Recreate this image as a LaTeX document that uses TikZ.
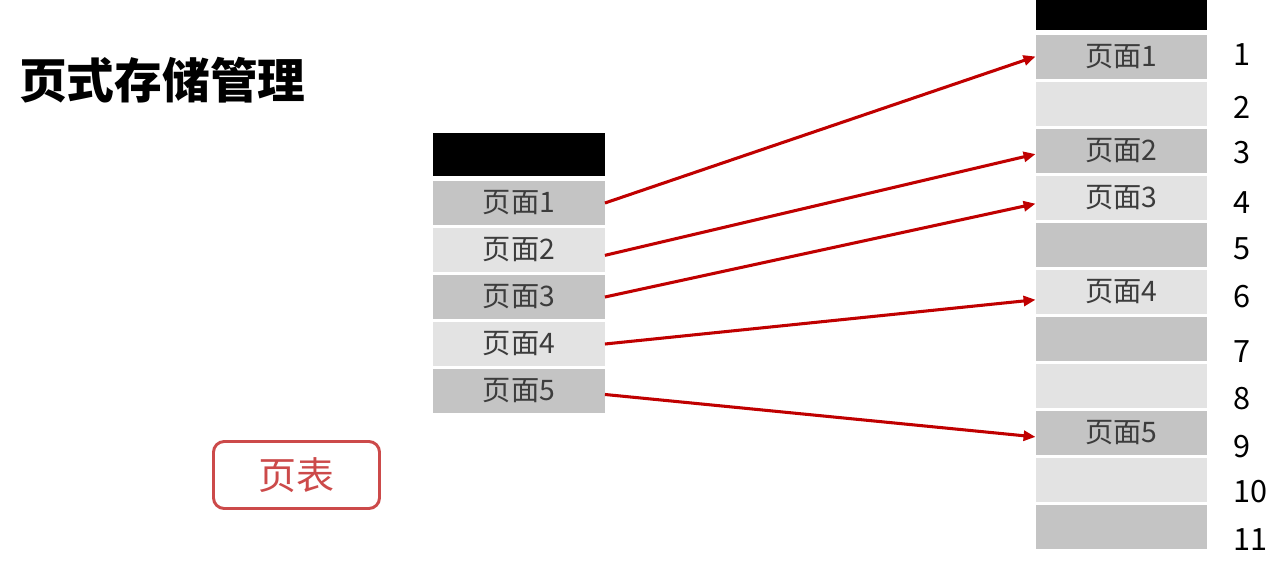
\documentclass[tikz,border=0pt]{standalone}
\usepackage{fontspec}
\setmainfont{Noto Sans CJK SC}
\usetikzlibrary{arrows.meta}
\definecolor{rowdark}{HTML}{C4C4C4}
\definecolor{rowlight}{HTML}{E3E3E3}
\definecolor{pagetext}{HTML}{3C3C3C}
\definecolor{arrowred}{HTML}{C00000}
\definecolor{tablered}{HTML}{CC4A4A}
\newcommand{\lcol}{519}
\newcommand{\rcol}{1121.5}

\begin{document}
\begin{tikzpicture}[x=0.75pt,y=-0.75pt,
  cell/.style={minimum width=128.5pt,minimum height=33.5pt,inner sep=0pt,
               font=\fontsize{21.2}{21}\selectfont,text=pagetext},
  darkrow/.style={cell,fill=rowdark},
  lightrow/.style={cell,fill=rowlight},
  headrow/.style={fill=black,minimum width=128.5pt,inner sep=0pt},
  numlabel/.style={anchor=west,inner sep=0pt,font=\fontsize{23}{23}\selectfont},
  pagearrow/.style={-{Triangle[length=9pt,width=7.5pt]},line width=2.3pt,arrowred},
]
  \useasboundingbox[fill=white] (0,0) rectangle (1279,565);

  % title
  \node[anchor=west,inner sep=0pt,font=\fontsize{35.8}{36}\selectfont\bfseries] (title) at (19,80) {页式存储管理};

  %% logical pages
  \node[headrow,minimum height=32.25pt] (lhead) at (\lcol,154.5) {};
  \foreach \i/\s in {1/darkrow,2/lightrow,3/darkrow,4/lightrow,5/darkrow}
    \node[\s] (l\i) at (\lcol,{203+47*(\i-1)}) {页面\i};

  %% page table button
  \node[draw=tablered,line width=2.2pt,rounded corners=8pt,minimum width=124.5pt,
        minimum height=50.25pt,text=tablered,font=\fontsize{28.5}{28}\selectfont] (ptable) at (296.5,475) {页表};

  %% physical frames
  \node[headrow,minimum height=22.5pt] (rhead) at (\rcol,15) {};
  \foreach \i/\s/\t in {1/darkrow/页面1,2/lightrow/,3/darkrow/页面2,4/lightrow/页面3,
                        5/darkrow/,6/lightrow/页面4,7/darkrow/,8/lightrow/,
                        9/darkrow/页面5,10/lightrow/,11/darkrow/}
    \node[\s,minimum height=33pt] (r\i) at (\rcol,{56.5+47.05*(\i-1)}) {\t};
  \foreach \n/\y in {1/55,2/107,3/153,4/203,5/249,6/297,7/352,8/399,9/447,10/492,11/540}
    \node[numlabel] (n\n) at (1233,\y) {\n};

  %% mapping
  \draw[pagearrow] (l1.east) -- (r1.west);
  \draw[pagearrow] ([yshift=-4pt]l2.east) -- ([yshift=-2.6pt]r3.west);
  \draw[pagearrow] (l3.east) -- ([yshift=-4.5pt]r4.west);
  \draw[pagearrow] (l4.east) -- ([yshift=-6pt]r6.west);
  \draw[pagearrow] ([yshift=-2.6pt]l5.east) -- ([yshift=-3pt]r9.west);

\end{tikzpicture}
\end{document}
